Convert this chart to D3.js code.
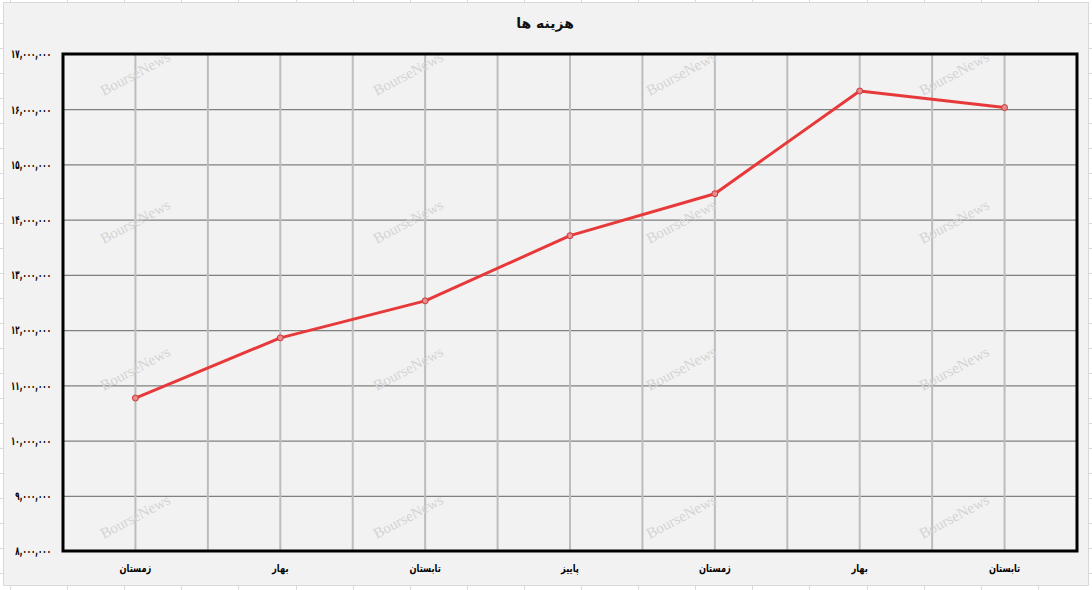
<!DOCTYPE html>
<html><head><meta charset="utf-8">
<script src="https://cdn.jsdelivr.net/npm/d3@7"></script>
<style>
html,body{margin:0;padding:0;background:#fff;}
svg{display:block;}
</style></head>
<body>
<svg id="chart" width="1092" height="590"></svg>
<script>
const title = "هزینه ها";
const categories = ["زمستان","بهار","تابستان","پاییز","زمستان","بهار","تابستان"];
const values = [10770000, 11860000, 12530000, 13710000, 14470000, 16330000, 16030000];
const yTicks = [8000000,9000000,10000000,11000000,12000000,13000000,14000000,15000000,16000000,17000000];
const watermark = "BourseNews";

const W = 1092, H = 590;
const svg = d3.select("#chart");
const fa = s => String(s).replace(/[0-9]/g, d => "۰۱۲۳۴۵۶۷۸۹"[+d]);
const faFont = "'DejaVu Sans', sans-serif";

// spreadsheet background grid
const sheet = svg.append("g");
sheet.append("rect").attr("width", W).attr("height", H).attr("fill", "#fff");
for (let x = 10; x < W; x += 57.1) {
  sheet.append("line").attr("x1", Math.round(x)+0.5).attr("x2", Math.round(x)+0.5).attr("y1", 0).attr("y2", H).attr("stroke", "#d9d9d9");
}
for (let y = 23; y < H; y += 25) {
  sheet.append("line").attr("x1", 0).attr("x2", W).attr("y1", y+0.5).attr("y2", y+0.5).attr("stroke", "#d9d9d9");
}
// chart object
svg.append("rect").attr("x", 3.5).attr("y", 2.5).attr("width", 1085).attr("height", 583)
  .attr("fill", "#f2f2f2").attr("stroke", "#d9d9d9");

const m = {l: 63, t: 54, r: 1077, b: 551};
const x = d3.scaleBand().domain(d3.range(categories.length)).range([m.l, m.r]);
const y = d3.scaleLinear().domain([8000000, 17000000]).range([m.b, m.t]);
const cx = i => x(i) + x.bandwidth() / 2;

// horizontal gridlines
svg.append("g").attr("transform", `translate(${m.l},0)`)
  .call(d3.axisLeft(y).tickValues(yTicks).tickSize(-(m.r - m.l)).tickFormat(""))
  .call(g => g.select(".domain").remove())
  .call(g => g.selectAll("line").attr("stroke", "#808080").attr("stroke-width", 1.2));

// vertical gridlines: category centres and band boundaries
const vLines = [];
categories.forEach((c, i) => { vLines.push(cx(i)); if (i > 0) vLines.push(x(i)); });
svg.append("g").selectAll("line").data(vLines).join("line")
  .attr("x1", d => d).attr("x2", d => d).attr("y1", m.t).attr("y2", m.b)
  .attr("stroke", "#bdbdbd").attr("stroke-width", 2);

// watermarks
const wmX = [136, 409, 682, 955], wmY = [75, 223, 370, 518];
const wm = svg.append("g");
wmY.forEach(yy => wmX.forEach(xx => {
  wm.append("text").attr("transform", `translate(${xx},${yy}) rotate(-28)`)
    .attr("text-anchor", "middle").attr("dominant-baseline", "middle")
    .attr("font-family", "'Liberation Serif', 'DejaVu Serif', serif").attr("font-size", 15)
    .attr("fill", "#d4d4d4").text(watermark);
}));

// frame
svg.append("rect").attr("x", m.l).attr("y", m.t).attr("width", m.r - m.l).attr("height", m.b - m.t)
  .attr("fill", "none").attr("stroke", "#000").attr("stroke-width", 3);

// y axis labels
const yAx = svg.append("g").attr("transform", `translate(${m.l},0)`)
  .call(d3.axisLeft(y).tickValues(yTicks).tickSize(0).tickPadding(12).tickFormat(d => fa(d3.format(",")(d))))
  .call(g => g.select(".domain").remove())
  .call(g => g.selectAll("text").attr("font-family", faFont).attr("font-weight", "bold")
    .attr("font-size", 12).attr("fill", "#000").attr("direction", "ltr"));
// condense labels horizontally to match the narrow original glyphs
yAx.selectAll("text").each(function() {
  const len = this.getComputedTextLength();
  d3.select(this).attr("textLength", len * 0.59).attr("lengthAdjust", "spacingAndGlyphs");
});

// x axis labels
const xAx = svg.append("g").attr("transform", `translate(0,${m.b})`)
  .call(d3.axisBottom(x).tickSize(0).tickPadding(13).tickFormat(i => categories[i]))
  .call(g => g.select(".domain").remove())
  .call(g => g.selectAll("text").attr("font-family", faFont).attr("font-weight", "bold")
    .attr("font-size", 11).attr("fill", "#000"));
xAx.selectAll("text").each(function() {
  const len = this.getComputedTextLength();
  d3.select(this).attr("textLength", len * 0.75).attr("lengthAdjust", "spacingAndGlyphs");
});

// title
svg.append("text").attr("x", 545).attr("y", 28).attr("text-anchor", "middle")
  .attr("font-family", faFont).attr("font-weight", "bold").attr("font-size", 14).attr("fill", "#111")
  .text(title);

// line
const line = d3.line().x((d, i) => cx(i)).y(d => y(d));
svg.append("path").datum(values).attr("d", line).attr("fill", "none")
  .attr("stroke", "#e8393a").attr("stroke-width", 3).attr("stroke-linejoin", "round");
svg.append("g").selectAll("circle").data(values).join("circle")
  .attr("cx", (d, i) => cx(i)).attr("cy", d => y(d)).attr("r", 3)
  .attr("fill", "#e88a8a").attr("stroke", "#c8383a").attr("stroke-width", 1);
</script>
</body></html>
